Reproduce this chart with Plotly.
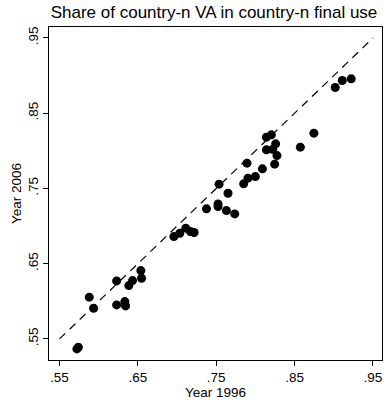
import plotly.graph_objects as go

year_1996 = [0.5722, 0.5740, 0.5880, 0.5935, 0.6229, 0.6229, 0.6334, 0.6343, 0.6385, 0.6432,
             0.6538, 0.6547, 0.6959, 0.7035, 0.7111, 0.7171, 0.7217, 0.7375, 0.7536, 0.7523,
             0.7523, 0.7650, 0.7630, 0.7736, 0.7850, 0.7905, 0.7999, 0.7892, 0.8089, 0.8245,
             0.8140, 0.8258, 0.8275, 0.8220, 0.8140, 0.8203, 0.8573, 0.8746, 0.9018, 0.9108,
             0.9222]
year_2006 = [0.5367, 0.5389, 0.6055, 0.5908, 0.6271, 0.5952, 0.5996, 0.5939, 0.6209, 0.6275,
             0.6408, 0.6307, 0.6860, 0.6905, 0.6972, 0.6927, 0.6914, 0.7229, 0.7557, 0.7295,
             0.7259, 0.7437, 0.7206, 0.7162, 0.7561, 0.7637, 0.7658, 0.7836, 0.7761, 0.7823,
             0.8013, 0.8093, 0.7937, 0.8020, 0.8182, 0.8213, 0.8049, 0.8235, 0.8842, 0.8935,
             0.8957]
diag = [0.55, 0.95]
tick_vals = [0.55, 0.65, 0.75, 0.85, 0.95]
tick_text = [".55", ".65", ".75", ".85", ".95"]

fig = go.Figure()
fig.add_trace(go.Scatter(x=diag, y=diag, mode="lines",
                         line=dict(color="black", width=1.2, dash="8px,6px"),
                         hoverinfo="skip"))
fig.add_trace(go.Scatter(x=year_1996, y=year_2006, mode="markers",
                         marker=dict(color="black", size=9, line=dict(width=0))))

font = "Liberation Sans, Arial, sans-serif"
axis_common = dict(showgrid=False, zeroline=False, showline=True, linecolor="black",
                   linewidth=1, mirror=True, ticks="outside", ticklen=5, tickcolor="black",
                   tickwidth=1, tickfont=dict(family=font, size=13.5, color="black"),
                   tickvals=tick_vals, ticktext=tick_text, automargin=False)
fig.update_layout(
    width=387, height=402,
    margin=dict(l=49, r=5, t=27, b=42, autoexpand=False),
    paper_bgcolor="white", plot_bgcolor="white",
    showlegend=False,
    title=dict(text="Share of country-n VA in country-n final use",
               font=dict(family=font, size=17, color="black"),
               x=0.553, xanchor="center", y=1 - 12 / 402, yanchor="middle", yref="container"),
    xaxis=dict(range=[0.5366, 0.9615],
               title=dict(text="Year 1996", font=dict(family=font, size=13.5, color="black"), standoff=0),
               **axis_common),
    yaxis=dict(range=[0.522, 0.9646], tickangle=-90,
               title=dict(text="Year 2006", font=dict(family=font, size=13.5, color="black"), standoff=0),
               **axis_common),
)
fig.write_html("out.html", config={"displayModeBar": False},
               post_script="document.body.style.margin='0';document.body.style.overflow='hidden';")
